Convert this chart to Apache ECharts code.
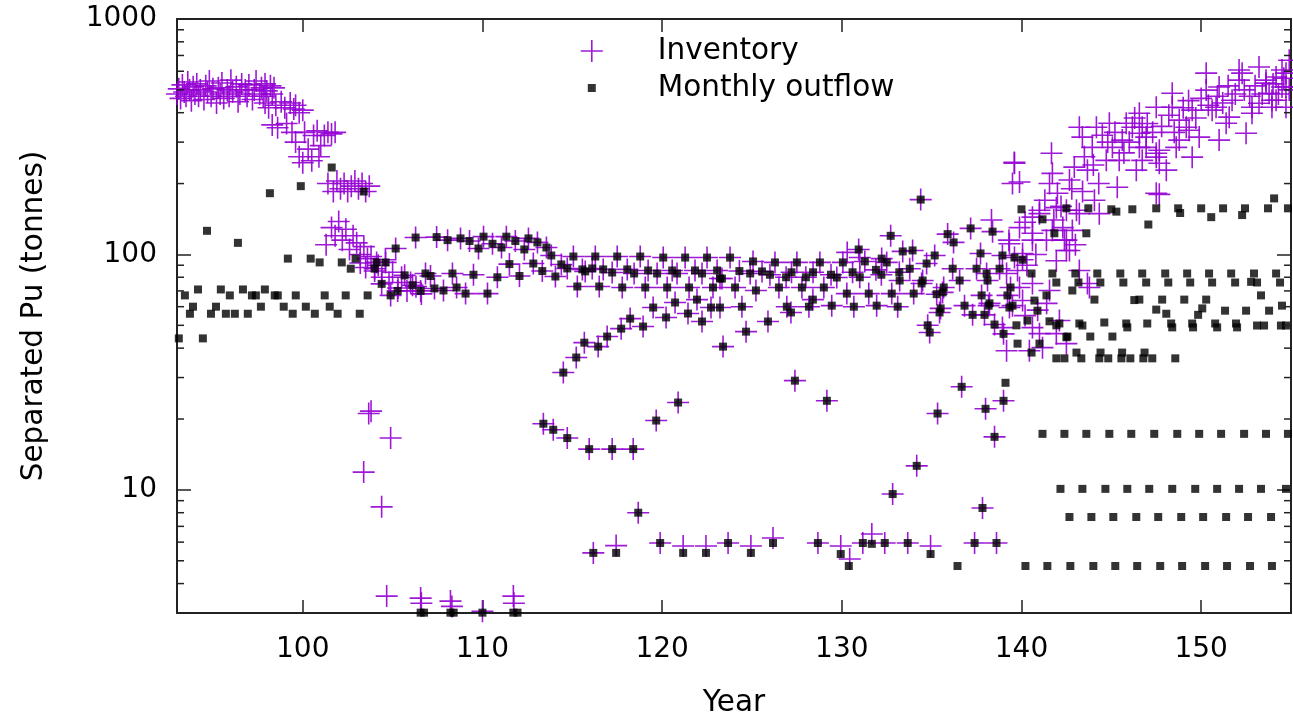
<!DOCTYPE html>
<html><head><meta charset="utf-8">
<script src="https://cdn.jsdelivr.net/npm/echarts@6/dist/echarts.min.js"></script>
<style>html,body{margin:0;padding:0;background:#fff}#chart{width:1293px;height:714px}</style>
</head><body><div id="chart"></div>
<script>
// ---------- axes ----------
const X_MIN = 93, X_MAX = 155, Y_MIN = 3, Y_MAX = 1000;
const xTickLabels = [100, 110, 120, 130, 140, 150];
const yTickLabels = [10, 100, 1000];
const yMinorTicks = [4,5,6,7,8,9,20,30,40,50,60,70,80,90,200,300,400,500,600,700,800,900];
const seriesNames = ['Inventory', 'Monthly outflow'];
const xTitle = 'Year';
const yTitle = 'Separated Pu (tonnes)';

// ---------- Inventory only (purple +) ----------
const inventoryEarly = [
[93.0,480],[93.1,505],[93.2,460],[93.3,525],[93.4,490],[93.5,470],[93.6,540],[93.7,500],[93.8,450],[93.9,515],
[94.0,480],[94.1,530],[94.2,470],[94.3,500],[94.5,455],[94.6,520],[94.7,490],[94.8,545],[94.9,470],[95.0,505],
[95.2,440],[95.3,510],[95.4,480],[95.5,535],[95.6,460],[95.8,500],[95.9,470],[96.0,550],[96.1,490],[96.3,515],
[96.4,445],[96.5,480],[96.6,530],[96.8,500],[96.9,470],[97.0,525],[97.2,455],[97.3,500],[97.4,545],[97.6,480],
[97.7,510],[97.8,470],[97.9,530],[98.0,495],[98.2,520],[98.3,480],[98.4,510],
[97.9,440],[98.1,420],[98.3,355],[98.5,430],[98.6,345],[98.8,445],[99.0,420],[99.1,360],[99.3,440],[99.5,415],[99.6,430],[99.8,400],[100.0,410],
[99.4,330],[99.6,300],[99.8,260],[100.0,245],[100.1,330],[100.3,280],[100.5,250],[100.6,320],[100.8,335],[100.9,260],[101.0,290],[101.2,320],[101.4,330],[101.6,325],[101.8,330],
[101.4,200],[101.7,185],[101.9,205],[102.1,190],[102.3,200],[102.5,185],[102.7,195],[102.9,205],[103.1,190],[103.3,200],[103.5,185],[103.7,195],
[101.3,110],[101.6,130],[101.8,120],[102.0,138],[102.2,115],[102.4,128],[102.6,105],[102.8,120],[103.0,112],[103.2,100],[103.4,108],[103.6,96],
[103.2,92],[103.5,88],[103.8,98],[104.0,85],[104.2,90],[104.4,80],[104.6,95],[104.8,76],[105.0,84],[105.3,72],[105.5,80],[105.8,70],[106.0,76],[106.3,73],[106.6,68]
];
const inventoryLow = [
[103.39,11.9],[103.67,21.1],[103.8,21.6],[104.39,8.47],[104.89,16.6],[104.67,3.54],[106.56,3.47],[106.6,3.30],
[108.22,3.37],[108.3,3.2],[110.0,3.05],[111.72,3.54],[111.75,3.30]
];
const inventoryExtra = [
[138.33,140],[139.5,200],[139.6,246],[139.3,115],[130.3,102],[131.0,97],[139.17,39],[138.94,48.9]
];
const inventoryLate = [
[139.61,244],[139.89,203],[139.89,130],[139.33,111],[139.17,83],[139.78,85.5],[139.89,72.4],[140.06,63.7],[140.06,101],[140.2,137],
[140.44,39],[140.61,144],[140.61,123],[140.61,115],[140.61,75.3],[140.61,48.9],[141.0,154],[141.0,149],[141.0,46.1],[141.17,40.2],
[141.39,115],[141.56,200],[141.56,70.3],[141.67,269],[141.72,221],[141.72,126.5],[141.94,158],[141.94,94],[141.94,46.1],[142.0,182],
[142.11,52.4],[142.39,115],[142.5,154],[142.5,115],[142.5,104],[142.5,41.8],[142.67,207],[142.67,104],[142.83,126.5],[142.94,235],
[143.06,154],[143.22,347],[143.22,149],[143.22,85.5],[143.39,315],[143.67,228],[143.67,75.3],[143.78,72.4],[143.94,285],[144.06,170],
[144.17,347],[144.33,149],[144.5,321],[144.72,251],[144.89,361],[145.06,285],[145.33,193],[145.44,251],[145.61,306],[145.83,361],
[146.17,347],[146.39,228],[146.56,398],[146.56,327],[146.56,285],[146.72,347],[146.72,251],[146.94,315],[146.94,285],[147.5,269],
[147.5,259],[147.5,182],[147.5,422],[147.67,244],[147.67,277],[147.67,180],[148.06,228],[148.39,484],[148.39,422],[148.61,285],
[148.78,372],[148.78,306],[149.17,347],[149.33,337],[149.5,410],[149.5,259],[149.89,315],[150.28,499],[150.28,589],[150.61,410],
[150.83,422],[151.0,306],[151.0,514],[151.39,361],[151.56,383],[151.72,452],[152.11,550],[152.11,607],[152.28,589],[152.5,327],
[152.83,398],[152.83,422],[153.22,439],[153.22,625],[153.61,550],[153.61,534],[153.78,484],[153.94,422],[153.94,452],[154.17,567],
[154.17,452],[154.5,607],[154.5,514],[154.72,514],[154.72,422],[154.72,589],[154.9,668],
[142.2,160],[142.8,190],[143.5,260],[144.0,240],[144.3,200],[144.8,300],[145.2,330],[145.7,270],[146.0,300],[146.3,380],
[147.0,360],[147.3,330],[147.8,350],[148.2,390],[148.5,330],[149.0,420],[149.3,450],[149.7,380],[150.0,460],[150.4,430],
[150.9,470],[151.2,440],[151.5,520],[151.9,480],[152.4,500],[152.7,470],[153.0,520],[153.4,480],[154.0,530],[154.3,480],
[154.6,560],[154.9,500],[140.3,90],[140.8,100],[141.3,170],[141.8,140],[142.3,130],[143.4,185],[143.0,110],[140.9,58],
[141.4,62],[140.2,55]
];
const inventoryLowRow = [
[116.17,5.4],[117.44,5.8],[119.89,5.95],[121.17,5.78],[122.44,5.78],[123.67,5.95],[124.94,5.78],[126.17,6.25],[128.67,5.95],
[129.94,5.78],[130.44,5.09],[131.17,5.95],[131.67,6.5],[132.39,5.95],[133.67,5.95],[134.94,5.78],[137.39,5.95],[138.61,5.95]
];

// ---------- points where both series coincide ----------
const sharedBand = [
[104.0,87],[104.11,92.5],[104.61,92.5],[105.17,106],[104.39,75],[104.89,67],[105.28,70],[105.67,81.5],[106.11,74],[106.56,70],[106.83,83],
[106.28,118],[107.45,118.5],[108.06,115],[108.78,117],[109.28,114],[109.78,106],[110.06,119],[110.56,111],[111.06,107],[111.33,119],
[111.83,114],[112.33,105],[112.56,117],[113.06,112.5],[113.56,107],[113.83,99],
[107.11,81],[108.33,83],[109.5,82],[110.83,80],[111.5,91],[112.06,81],[112.83,91.5],[113.33,85],[114.06,80.6],[114.39,90.7],[114.72,87.2],[115.06,98],
[107.33,71.7],[107.83,70.3],[108.56,72.4],[109.06,68.2],[110.28,68.2],
[116.28,98],[117.5,98],[118.78,98],[120.06,97],[121.28,97],[122.5,97],
[115.56,86.4],[115.72,84.7],[116.11,87.2],[116.72,86.4],[117.22,83.8],[118.06,86.4],[118.44,83],[119.22,85.5],[119.72,83],[120.56,85.5],
[120.83,83],[121.83,85.5],[122.22,83],[123.06,85.5],[123.33,79],
[115.28,73.1],[116.5,73.1],[117.78,72.4],[119.06,72.4],[120.28,72.4],[121.5,72.4],[122.83,72.4],
[123.78,97],[125.06,93.4],[126.28,92.5],[127.5,92.5],[128.78,92.5],[130.06,92.5],[131.28,93.4],[132.5,92.5],[133.94,104],[135.17,99],
[123.22,79],[124.3,85],[124.9,83],[125.56,84.7],[126.0,82],[126.9,80],[127.2,84],[128.0,80],[128.4,84],[129.4,82],[129.72,79.8],
[130.6,84],[131.0,80],[131.9,86],[132.2,82],[133.2,84],[133.78,87],[134.5,77.5],[136.17,87],[137.5,87],[138.78,87],[138.06,83],
[124.06,72.4],[125.22,70.3],[126.5,72.4],[127.78,72.4],[129.0,72.4],[130.28,68.2],[131.5,68.2],[132.78,68.2],[134.0,68.2],[135.28,67.8],
[130.94,105],[132.22,96],[132.72,120],[133.39,103],[134.39,171],[134.72,91.5],[135.89,122],[136.22,112.5],[137.17,129],[137.72,101],
[138.39,125],[138.94,99],[139.61,97],
[133.22,77.5],[134.44,75.3],[135.61,69],[136.56,77.5],[137.78,67],[138.11,77.5],[139.22,67],[140.06,95],
[136.83,60.6],[137.28,55.4],[137.94,55.4],[138.17,60.6],[139.39,72.4],[139.5,60.6],[135.5,59],[135.67,72.4],[134.78,50],[134.89,46.6],
[138.5,50.4],[139.0,46],[135.44,56.7],[138.22,62],[139.33,59.5]
];
const sharedArc = [
[114.5,31.5],[115.22,36.5],[115.67,42.2],[116.44,40.6],[116.94,44.8],[117.72,48.4],[118.22,53.4],[118.94,49.4],[119.5,59.5],[120.22,54],
[120.72,62.5],[121.44,56.1],[121.94,64.3],[122.22,51.9],[122.72,59.5],[123.22,59.5],[123.39,40.6],[124.44,60],[124.67,47],[125.89,51.9],
[126.94,60],[127.17,56.7],[128.17,60],[128.39,64.3],[129.44,60.6],[130.67,60],[131.94,60.6],[133.11,60],
[113.39,19.1],[113.94,18],[114.72,16.6],[115.94,14.9],[117.22,14.9],[118.39,14.9],[119.67,19.7],[120.89,23.5],[118.67,8.0],
[127.39,29.1],[129.17,23.9],[132.83,9.6],[134.17,12.65],[135.33,21.1],[136.67,27.4],[138.0,22.1],[138.5,16.8],[139.0,23.9],[137.83,8.38]
];

// ---------- Monthly outflow only (black squares) ----------
const outflowEarly = [
[93.1,44],[93.44,67],[93.72,56],[93.89,60],[94.17,71],[94.44,44],[94.67,126],[94.89,56],[95.17,60],[95.44,71],[95.72,56],[95.94,67],
[96.22,56],[96.39,112],[96.67,71],[96.94,56],[97.17,67],[97.39,67],[97.67,60],[97.89,71],[98.17,182],[98.44,67],[98.61,67],[98.94,60],
[99.17,96],[99.44,56],[99.61,67],[99.89,195],[100.17,60],[100.44,96],[100.67,56],[100.94,92.5],[101.22,67],[101.5,60],[101.61,234],
[101.94,56],[102.17,92.5],[102.39,67],[102.67,87],[102.94,96],[103.17,56],[103.39,185],[103.61,67]
];
const outflowBottom = [
[106.56,3.01],[106.75,3.01],[108.22,3.01],[108.4,3.01],[110.0,3.01],[111.72,3.01],[111.95,3.01]
];
const outflowLowRow = [
[116.17,5.4],[117.44,5.4],[119.89,5.95],[121.17,5.4],[122.44,5.4],[123.67,5.95],[124.94,5.4],[126.17,5.95],[128.67,5.95],[129.94,5.34],
[130.39,4.75],[131.17,5.95],[131.67,5.9],[132.39,5.95],[133.67,5.95],[134.94,5.34],[136.44,4.75],[137.39,5.95],[138.61,5.95],[139.11,28.5]
];
const outflowLate = [
[140.0,155.5],[141.17,141],[141.83,123],[142.5,157],[143.61,123],[143.72,157],[145.0,155.5],[145.28,152],[146.17,155.5],[147.06,134],
[147.5,157],[148.72,157],[148.83,150],[150.0,157],[150.56,144],[151.22,157],[152.28,147],[152.44,157],[153.72,157],[154.06,173],[154.83,157],
[140.56,83],[141.72,83],[143.0,83],[144.22,83],[145.5,83],[146.72,83],[148.0,83],[149.22,83],[150.44,83],[151.67,83],[152.94,83],[154.17,83],
[141.94,76],[143.17,76],[144.39,76],[145.67,76],[146.94,76],[148.17,76],[149.39,76],[150.61,76],[151.89,76],[152.78,76.5],[153.11,76],[154.39,76],
[144.06,64.3],[146.28,64],[146.56,64.3],[147.83,64.3],[149.06,64.3],[150.28,64.3],[153.33,67],[142.83,70.3],[141.39,67],
[147.5,58.3],[148.06,56],[149.83,55.4],[150.06,59],[151.33,57.7],[152.5,57.7],[153.78,57.7],[154.5,60.6],
[141.56,52],[142.11,50.9],[143.22,50.9],[143.39,49.9],[144.61,51.4],[145.83,50.9],[145.89,49],[147.0,50.9],[148.33,50.9],[148.39,49],
[149.5,50.9],[149.55,49],[150.78,50.9],[150.89,49],[151.94,50.9],[152.0,49],[153.11,49.9],[153.5,49.9],[154.44,49.9],[154.72,49.9],
[142.56,44.8],[143.83,44.8],[145.06,44.8],
[140.56,38.3],[141.94,36.2],[142.39,36.2],[143.06,38.3],[143.33,36.2],[144.33,36.2],[144.4,38.3],[144.83,36.2],[145.56,36.2],[145.6,38.3],
[146.06,36.2],[146.78,36.2],[146.85,38.3],[147.28,36.2],[148.56,36.2],
[140.72,63.7],[140.89,57.7],[139.72,50],[140.33,52.4],[139.78,41.8],[141.0,41.8],[141.94,50],[142.5,44.5]
];
const outflowRows = [
[141.17,17.3],[142.39,17.3],[143.61,17.3],[144.89,17.3],[146.11,17.3],[147.39,17.3],[148.67,17.3],[149.89,17.3],[151.11,17.3],[152.39,17.3],[153.61,17.3],[154.83,17.3],
[142.17,10.1],[143.39,10.1],[144.67,10.1],[145.89,10.1],[147.11,10.1],[148.39,10.1],[149.67,10.1],[150.89,10.1],[152.11,10.1],[153.33,10.1],[154.72,10.1],
[142.67,7.67],[143.89,7.67],[145.11,7.67],[146.39,7.67],[147.61,7.67],[148.89,7.67],[150.11,7.67],[151.39,7.67],[152.61,7.67],[153.89,7.67],
[140.22,4.75],[141.44,4.75],[142.72,4.75],[144.0,4.75],[145.22,4.75],[146.44,4.75],[147.72,4.75],[148.94,4.75],[150.22,4.75],[151.44,4.75],[152.72,4.75],[153.94,4.75]
];

// ---------- build ----------
const PURPLE = '#9400D3';
const FONT = 'DejaVu Sans';
const inventoryData = [].concat(inventoryEarly, inventoryLow, sharedBand, sharedArc, inventoryExtra, inventoryLowRow, inventoryLate);
const outflowData = [].concat(outflowEarly, outflowBottom, sharedBand, sharedArc, outflowLowRow, outflowLate, outflowRows);

const xFmt = v => { const r = Math.round(v); return (Math.abs(v - r) < 1e-6 && xTickLabels.includes(r)) ? String(r) : ''; };
const yFmt = v => { const t = yTickLabels.find(t => Math.abs(t - v) / t < 1e-6); return t ? String(t) : ''; };
const lineCol = '#222';

const baseX = { type: 'value', min: X_MIN, max: X_MAX, splitNumber: 6, splitLine: { show: false },
  axisLine: { show: true, onZero: false, lineStyle: { color: lineCol, width: 2 } },
  axisTick: { show: true, inside: true, length: 13, lineStyle: { color: lineCol, width: 1.5 } } };
const baseY = { type: 'log', logBase: 10, min: Y_MIN, max: Y_MAX, splitLine: { show: false },
  axisLine: { show: true, onZero: false, lineStyle: { color: lineCol, width: 2 } },
  axisTick: { show: true, inside: true, length: 14, lineStyle: { color: lineCol, width: 1.5 } }, minorTick: { show: false } };

const chart = echarts.init(document.getElementById('chart'), null, { renderer: 'canvas' });
chart.setOption({
  animation: false,
  backgroundColor: '#fff',
  textStyle: { fontFamily: FONT },
  grid: { left: 177, right: 2, top: 19, bottom: 101, containLabel: false, outerBoundsMode: 'none' },
  xAxis: [
    Object.assign({}, baseX, { position: 'bottom', name: xTitle, nameLocation: 'middle', nameGap: 75,
      nameTextStyle: { fontFamily: FONT, fontSize: 29.5, color: '#000' },
      axisLabel: { show: true, margin: 23, fontFamily: FONT, fontSize: 28, color: '#000', formatter: xFmt } }),
    Object.assign({}, baseX, { position: 'top', axisLabel: { show: false } })
  ],
  yAxis: [
    Object.assign({}, baseY, { position: 'left', name: yTitle, nameLocation: 'middle', nameGap: 128, nameRotate: 90,
      nameTextStyle: { fontFamily: FONT, fontSize: 29.5, color: '#000' },
      axisLabel: { show: true, margin: 20, fontFamily: FONT, fontSize: 28, color: '#000', formatter: yFmt } }),
    Object.assign({}, baseY, { position: 'right', axisLabel: { show: false } })
  ],
  legend: {
    orient: 'vertical', left: 572, top: 31, itemWidth: 122, itemHeight: 28, itemGap: 7,
    selectedMode: false,
    textStyle: { fontFamily: FONT, fontSize: 29.5, color: '#000' },
    data: [
      { name: seriesNames[0], icon: 'path://M-14,-14M14,14M0,-11L0,11M-11,0L11,0',
        itemStyle: { color: 'transparent', borderColor: PURPLE, borderWidth: 1.6 } },
      { name: seriesNames[1], icon: 'path://M-14,-14M14,14M-4,-4L4,-4L4,4L-4,4Z',
        itemStyle: { color: '#000', borderWidth: 0 } }
    ]
  },
  series: [
    { name: seriesNames[0], type: 'scatter', data: inventoryData, symbol: 'path://M0,-1L0,1M-1,0L1,0', symbolSize: 22,
      itemStyle: { color: 'transparent', borderColor: PURPLE, borderWidth: 1.6, opacity: 0.9 }, emphasis: { disabled: true }, z: 2 },
    { name: seriesNames[1], type: 'scatter', data: outflowData, symbol: 'rect', symbolSize: 8,
      itemStyle: { color: '#000' }, emphasis: { disabled: true }, z: 3 },
    { name: 'minorTicks', type: 'custom', silent: true, clip: false, z: 4,
      data: yMinorTicks.map(v => [X_MIN, v]),
      renderItem: function (params, api) {
        const v = api.value(1);
        const pL = api.coord([X_MIN, v]);
        const pR = api.coord([X_MAX, v]);
        const style = { stroke: lineCol, lineWidth: 1.5 };
        return { type: 'group', children: [
          { type: 'line', shape: { x1: pL[0], y1: pL[1], x2: pL[0] + 7, y2: pL[1] }, style: style },
          { type: 'line', shape: { x1: pR[0] - 7, y1: pR[1], x2: pR[0], y2: pR[1] }, style: style }
        ] };
      } }
  ]
});
</script>
</body></html>
